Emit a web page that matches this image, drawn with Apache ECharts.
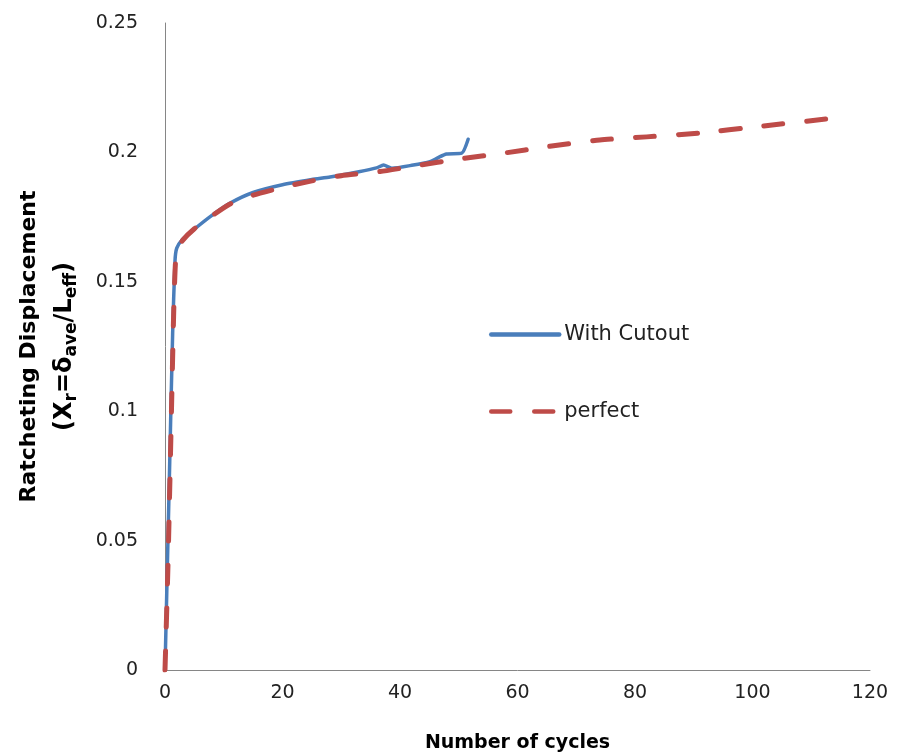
<!DOCTYPE html>
<html><head><meta charset="utf-8">
<script src="https://cdn.jsdelivr.net/npm/echarts@6/dist/echarts.min.js"></script>
<style>html,body{margin:0;padding:0;background:#fff}#c{width:901px;height:756px}</style>
</head><body><div id="c"></div>
<script>
const cutoutX = [0, 0.3, 0.8, 1.3, 1.7, 2.0, 3, 4.8, 7.7, 11.1, 15, 20, 25, 28.1, 33, 36, 37.2, 38.6, 42, 45.1, 46.5, 47.9, 50.5, 51.6];
const cutoutY = [0, 0.03, 0.08, 0.13, 0.158, 0.163, 0.1665, 0.170, 0.1752, 0.1804, 0.1845, 0.1875, 0.1895, 0.1905, 0.1925, 0.194, 0.1951, 0.1939, 0.195, 0.1964, 0.198, 0.1994, 0.1997, 0.2051];
const perfectX = [0, 0.5, 1, 1.5, 1.8, 2.2, 3, 5, 8, 11, 15, 20, 25, 30, 36.6, 42.6, 50.2, 57.6, 65, 74, 82, 91, 101, 112.5];
const perfectY = [0, 0.04, 0.09, 0.14, 0.158, 0.1625, 0.166, 0.1705, 0.1755, 0.18, 0.1835, 0.1865, 0.189, 0.191, 0.1926, 0.1948, 0.1975, 0.1997, 0.2022, 0.2048, 0.206, 0.2075, 0.21, 0.2129];
const seriesNames = ['With Cutout', 'perfect'];
const xTitle = 'Number of cycles';

const FONT = "'DejaVu Sans',sans-serif";
const zip = (a, b) => a.map((v, i) => [v, b[i]]);
const chart = echarts.init(document.getElementById('c'), null, {renderer: 'canvas'});
chart.setOption({
  animation: false,
  backgroundColor: '#fff',
  grid: {left: 165, right: 31, top: 23, bottom: 86, containLabel: false, outerBoundsMode: 'none'},
  legend: {
    orient: 'vertical', left: 484, top: 319,
    itemWidth: 68, itemHeight: 24, itemGap: 56,
    itemStyle: {opacity: 0},
    lineStyle: {width: 4.5},
    textStyle: {fontFamily: FONT, fontSize: 21, color: '#222'},
    data: seriesNames
  },
  xAxis: {
    type: 'value', min: 0, max: 120, interval: 20,
    name: xTitle, nameLocation: 'middle', nameGap: 64,
    nameTextStyle: {fontFamily: FONT, fontSize: 19, fontWeight: 'bold', color: '#000'},
    axisLine: {lineStyle: {color: '#868686', width: 1}},
    axisTick: {show: false},
    splitLine: {show: false},
    axisLabel: {fontFamily: FONT, fontSize: 19, color: '#222', margin: 14}
  },
  yAxis: {
    type: 'value', min: 0, max: 0.25, interval: 0.05,
    name: '{b|Ratcheting Displacement}\n{c|(X}{s|r}{c|=δ}{s|ave}{c|/L}{s|eff}{c|)}',
    nameLocation: 'middle', nameRotate: 90, nameGap: 82,
    nameTextStyle: {
      fontFamily: FONT, fontSize: 22, fontWeight: 'bold', color: '#000', lineHeight: 36,
      rich: {
        b: {fontFamily: FONT, fontSize: 22, fontWeight: 'bold', color: '#000', lineHeight: 36},
        c: {fontFamily: FONT, fontSize: 24, fontWeight: 'bold', color: '#000', lineHeight: 36},
        s: {fontFamily: FONT, fontSize: 17, fontWeight: 'bold', color: '#000', lineHeight: 36, padding: [13, 0, 0, 0]}
      }
    },
    axisLine: {show: true, lineStyle: {color: '#868686', width: 1}},
    axisTick: {show: false},
    splitLine: {show: false},
    axisLabel: {fontFamily: FONT, fontSize: 19, color: '#222', margin: 27}
  },
  series: [
    {
      name: seriesNames[0], type: 'line', data: zip(cutoutX, cutoutY),
      symbol: 'none', smooth: 0.2,
      lineStyle: {color: '#4A7EBB', width: 3.5, cap: 'round', join: 'round'},
      itemStyle: {color: '#4A7EBB'}
    },
    {
      name: seriesNames[1], type: 'line', data: zip(perfectX, perfectY),
      symbol: 'none', smooth: 0.2,
      lineStyle: {color: '#BE4B48', width: 5, type: [19, 24], cap: 'round', join: 'round'},
      itemStyle: {color: '#BE4B48'}
    }
  ]
});
</script></body></html>
